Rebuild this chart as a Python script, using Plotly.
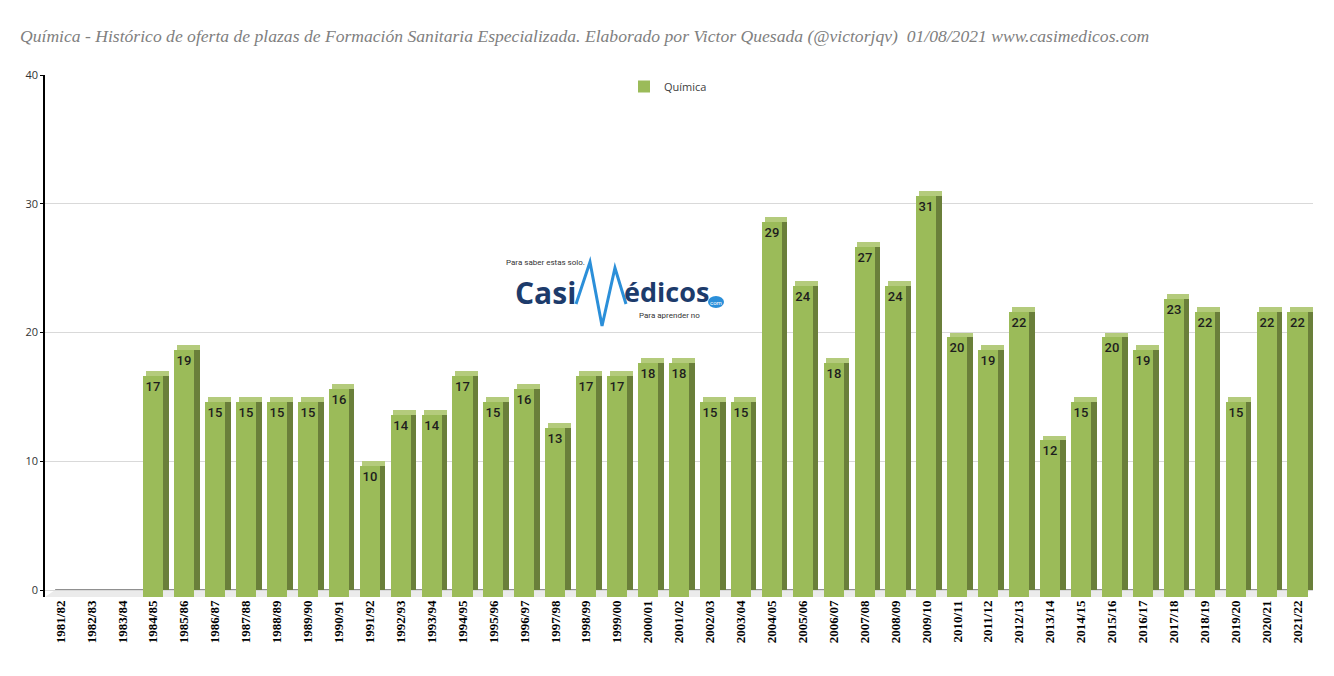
import plotly.graph_objects as go

categories = ["1981/82", "1982/83", "1983/84", "1984/85", "1985/86", "1986/87", "1987/88",
              "1988/89", "1989/90", "1990/91", "1991/92", "1992/93", "1993/94", "1994/95",
              "1995/96", "1996/97", "1997/98", "1998/99", "1999/00", "2000/01", "2001/02",
              "2002/03", "2003/04", "2004/05", "2005/06", "2006/07", "2007/08", "2008/09",
              "2009/10", "2010/11", "2011/12", "2012/13", "2013/14", "2014/15", "2015/16",
              "2016/17", "2017/18", "2018/19", "2019/20", "2020/21", "2021/22"]
plazas = [None, None, None, 17, 19, 15, 15, 15, 15, 16, 10, 14, 14, 17, 15, 16, 13, 17, 17,
          18, 18, 15, 15, 29, 24, 18, 27, 24, 31, 20, 19, 22, 12, 15, 20, 19, 23, 22, 15, 22, 22]
yticks = [0, 10, 20, 30, 40]
series_name = "Química"

W, H = 1334, 676
ML, MR, MT, MB = 45, 21, 75, 79
Y0 = -0.544
DEPTH = 0.38
BW = 0.65
SIDE = 0.18

FRONT = "#9bbb59"
SIDEC = "#6a7f3a"
TOPC = "#b4cb7c"


def px(x, y):
    return (x - ML) / (W - ML - MR), 1 - (y - MT) / (H - MT - MB)


has = [v is not None for v in plazas]
cats = [c for c, h in zip(categories, has) if h]
vals = [v for v in plazas if v is not None]

fig = go.Figure()

# side (depth) face
fig.add_trace(go.Bar(
    x=cats, y=vals, base=0,
    offset=-BW / 2 + SIDE, width=BW,
    marker=dict(color=SIDEC, line=dict(width=0)),
    showlegend=False, hoverinfo="skip"))
# top face
fig.add_trace(go.Bar(
    x=cats, y=[DEPTH] * len(vals), base=[v - DEPTH for v in vals],
    offset=-BW / 2 + SIDE / 2, width=BW + SIDE / 2,
    marker=dict(color=TOPC, line=dict(width=0)),
    showlegend=False, hoverinfo="skip"))
# front face
fig.add_trace(go.Bar(
    x=cats, y=[v - DEPTH - Y0 for v in vals], base=Y0,
    offset=-BW / 2, width=BW,
    marker=dict(color=FRONT, line=dict(width=0)),
    name=series_name,
    text=[str(v) for v in vals], textposition="inside", insidetextanchor="end",
    textangle=0, constraintext="none",
    textfont=dict(family="Roboto", size=13, color="#1e1e1e", weight=500),
    customdata=vals, hovertemplate="%{x}: %{customdata}<extra></extra>"))

shapes = []
# floor
shapes.append(dict(type="path", xref="paper", yref="y", layer="below",
                   path=f"M 0,{Y0} L 0.985,{Y0} L 1,0 L 0.008,0 Z",
                   fillcolor="#ebebeb", line=dict(width=0)))
# back floor line (zero)
shapes.append(dict(type="line", xref="paper", yref="y", layer="below",
                   x0=0.008, x1=1, y0=0, y1=0, line=dict(color="#222222", width=1.2)))

# logo heartbeat "M"
pts = [(576, 304), (590, 262), (602, 326), (615, 268), (626, 304)]
p = [px(*q) for q in pts]
path = "M " + " L ".join(f"{a:.4f},{b:.4f}" for a, b in p)
shapes.append(dict(type="path", xref="paper", yref="paper", path=path,
                   line=dict(color="#2b8fd9", width=3)))
cx, cy = px(716, 302)
shapes.append(dict(type="circle", xref="paper", yref="paper",
                   x0=cx - 8 / 1268, x1=cx + 8 / 1268, y0=cy - 6 / 522, y1=cy + 6 / 522,
                   fillcolor="#2b8fd9", line=dict(width=0)))

annotations = []
x, y = px(578, 292)
annotations.append(dict(xref="paper", yref="paper", x=x, y=y, xanchor="right", yanchor="middle",
                        text="Casi", showarrow=False,
                        font=dict(family="Open Sans", size=30, color="#1d3b6b", weight=700)))
x, y = px(622, 291)
annotations.append(dict(xref="paper", yref="paper", x=x, y=y, xanchor="left", yanchor="middle",
                        text="édicos", showarrow=False,
                        font=dict(family="Open Sans", size=27, color="#1d3b6b", weight=700)))
x, y = px(504, 262)
annotations.append(dict(xref="paper", yref="paper", x=x, y=y, xanchor="left", yanchor="middle",
                        text="Para saber estas solo.", showarrow=False,
                        font=dict(family="Roboto", size=8, color="#333333")))
x, y = px(637, 315)
annotations.append(dict(xref="paper", yref="paper", x=x, y=y, xanchor="left", yanchor="middle",
                        text="Para aprender no", showarrow=False,
                        font=dict(family="Roboto", size=8, color="#333333")))
x, y = px(716, 302)
annotations.append(dict(xref="paper", yref="paper", x=x, y=y, xanchor="center", yanchor="middle",
                        text="com", showarrow=False,
                        font=dict(family="Roboto", size=6, color="#ffffff")))

fig.update_layout(
    width=W, height=H,
    margin=dict(l=ML, r=MR, t=MT, b=MB),
    paper_bgcolor="white", plot_bgcolor="white",
    barmode="overlay", bargap=0,
    title=dict(
        text="Química - Histórico de oferta de plazas de Formación Sanitaria Especializada. "
             "Elaborado por Victor Quesada (@victorjqv)  01/08/2021 www.casimedicos.com",
        xref="container", yref="container", x=20 / W, y=1 - 36 / H,
        xanchor="left", yanchor="middle",
        font=dict(family="Liberation Serif", size=17.6, color="#808080", style="italic")),
    legend=dict(orientation="h", x=px(668, 0)[0], xanchor="center", y=px(0, 72)[1], yanchor="top",
                font=dict(family="Open Sans", size=11, color="#404040"), bgcolor="rgba(0,0,0,0)"),
    xaxis=dict(type="category", categoryorder="array", categoryarray=categories,
               range=[-0.5, len(categories) - 0.5], tickangle=-90,
               tickfont=dict(family="Liberation Serif", size=13, color="#000000", weight=700),
               showgrid=False, showline=False, ticks="", fixedrange=True),
    yaxis=dict(range=[Y0, 40], tickvals=yticks, ticktext=[str(t) for t in yticks],
               showgrid=True, gridcolor="#d9d9d9", gridwidth=1, zeroline=False,
               showline=True, linecolor="#000000", linewidth=1.5,
               ticks="outside", ticklen=3, tickcolor="#000000",
               tickfont=dict(family="Open Sans", size=11, color="#333333")),
    shapes=shapes, annotations=annotations,
    showlegend=True,
)

fig.write_html("out.html")
